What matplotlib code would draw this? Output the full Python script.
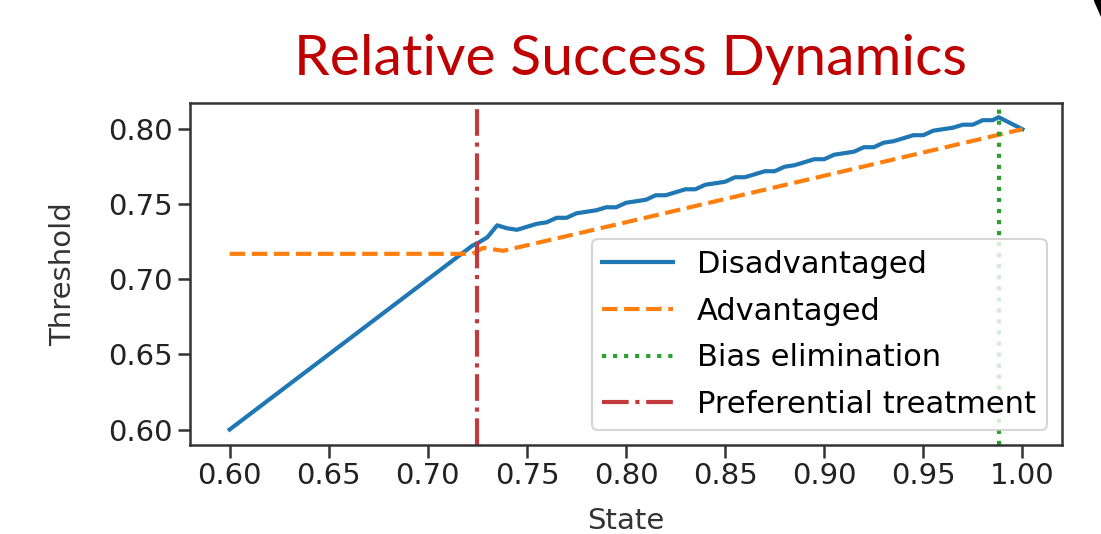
import matplotlib
matplotlib.use("Agg")
from matplotlib import pyplot as plt
from matplotlib.patches import Polygon

# Disadvantaged: straight up to the crossing, then a jagged climb
dis_x = [0.600, 0.7225, 0.725, 0.730, 0.735, 0.740, 0.745, 0.750, 0.755, 0.760,
         0.765, 0.770, 0.775, 0.780, 0.785, 0.790, 0.795, 0.800, 0.805, 0.810,
         0.815, 0.820, 0.825, 0.830, 0.835, 0.840, 0.845, 0.850, 0.855, 0.860,
         0.865, 0.870, 0.875, 0.880, 0.885, 0.890, 0.895, 0.900, 0.905, 0.910,
         0.915, 0.920, 0.925, 0.930, 0.935, 0.940, 0.945, 0.950, 0.955, 0.960,
         0.965, 0.970, 0.975, 0.980, 0.985, 0.988, 1.000]
dis_y = [0.600, 0.7225, 0.724, 0.728, 0.736, 0.734, 0.733, 0.735, 0.737, 0.738,
         0.741, 0.741, 0.744, 0.745, 0.746, 0.748, 0.748, 0.751, 0.752, 0.753,
         0.756, 0.756, 0.758, 0.760, 0.760, 0.763, 0.764, 0.765, 0.768, 0.768,
         0.770, 0.772, 0.772, 0.775, 0.776, 0.778, 0.780, 0.780, 0.783, 0.784,
         0.785, 0.788, 0.788, 0.791, 0.792, 0.794, 0.796, 0.796, 0.799, 0.800,
         0.801, 0.803, 0.803, 0.806, 0.806, 0.808, 0.800]

# Advantaged: flat, small bump at the crossing, then steady rise
adv_x = [0.600, 0.7225, 0.728, 0.738, 0.800, 0.900, 1.000]
adv_y = [0.717, 0.717, 0.721, 0.719, 0.738, 0.769, 0.800]

bias_elim = 0.988
pref_treat = 0.725

plt.rcParams['font.family'] = ['DejaVu Sans']

fig = plt.figure(figsize=(11.01, 5.34), dpi=100)
ax = fig.add_axes([0.1726, 0.1667, 0.792, 0.6403])

ax.plot(dis_x, dis_y, color='#1f77b4', lw=3, label='Disadvantaged')
ax.plot(adv_x, adv_y, color='#ff7f0e', lw=3, ls='--', label='Advantaged')
ax.axvline(bias_elim, color='#2ca02c', lw=3, ls=':', label='Bias elimination')
ax.axvline(pref_treat, color='#c33a3c', lw=3, ls='-.', label='Preferential treatment')

ax.set_xlim(0.58, 1.02)
ax.set_ylim(0.5897, 0.8174)
ax.set_xticks([0.60, 0.65, 0.70, 0.75, 0.80, 0.85, 0.90, 0.95, 1.00])
ax.set_yticks([0.60, 0.65, 0.70, 0.75, 0.80])
ax.tick_params(labelsize=21, length=9, width=1.8, colors='#333333', labelcolor='#222222')
for s in ax.spines.values():
    s.set_linewidth(1.8)
    s.set_color('#333333')

ax.set_xlabel('State', fontsize=21, color='#333333', labelpad=12)
ax.set_ylabel('Threshold', fontsize=21, color='#333333', labelpad=22)

leg = ax.legend(loc='lower right', fontsize=22, handlelength=2.3, borderpad=0.35,
                labelspacing=0.58, handletextpad=0.8, framealpha=0.8)
leg.get_frame().set_linewidth(1.5)

fig.text(0.573, 0.889, 'Relative Success Dynamics', color='#C00000',
         fontsize=41, family='Lato', ha='center', va='center')

# small dark sliver in the top right corner of the slide
fig.patches.append(Polygon([[0.994, 1.0], [1.0, 1.0], [1.0, 0.97]],
                           closed=True, transform=fig.transFigure,
                           color='black', zorder=5))

fig.savefig('out.png', dpi=100)
